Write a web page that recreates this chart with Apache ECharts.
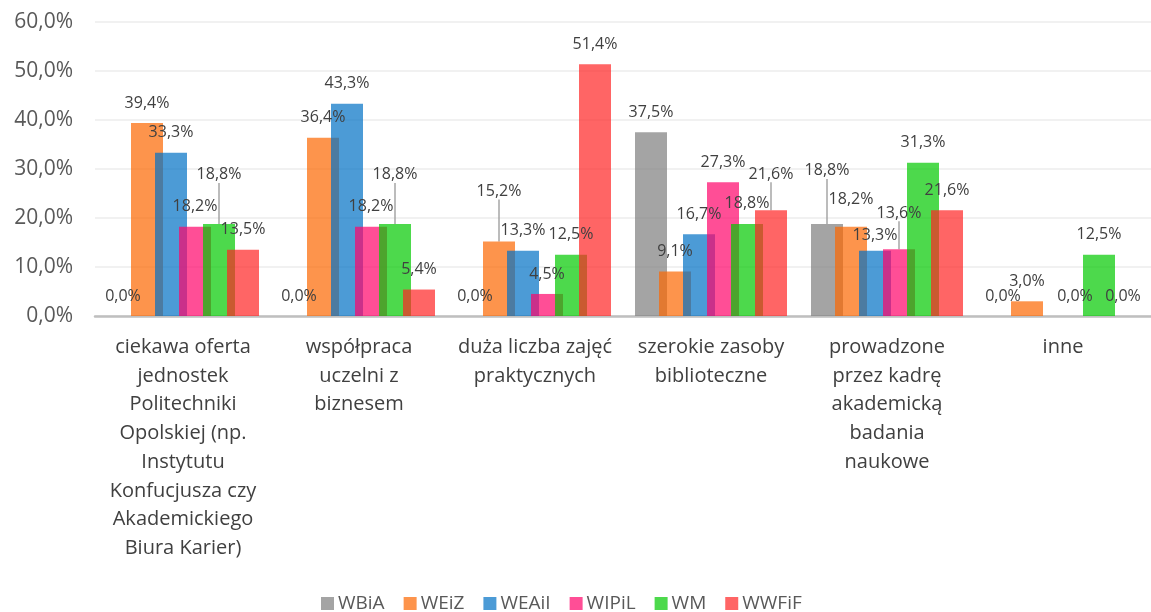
<!DOCTYPE html>
<html>
<head>
<meta charset="utf-8">
<script src="https://cdn.jsdelivr.net/npm/echarts@6/dist/echarts.min.js"></script>
<style>
    html, body { margin: 0; padding: 0; background: #ffffff; }
    #chart { width: 1151px; height: 612px; }
</style>
</head>
<body>
<div id="chart"></div>
<script>
    // categories (line breaks as wrapped in the original)
    const categories = [
        'ciekawa oferta\njednostek\nPolitechniki\nOpolskiej (np.\nInstytutu\nKonfucjusza czy\nAkademickiego\nBiura Karier)',
        'współpraca\nuczelni z\nbiznesem',
        'duża liczba zajęć\npraktycznych',
        'szerokie zasoby\nbiblioteczne',
        'prowadzone\nprzez kadrę\nakademicką\nbadania\nnaukowe',
        'inne'
    ]

    const seriesNames = ['WBiA', 'WEiZ', 'WEAiI', 'WIPiL', 'WM', 'WWFiF']

    // values in %
    const wbia  = [0, 0, 0, 37.5, 18.8, 0]
    const weiz  = [39.4, 36.4, 15.2, 9.1, 18.2, 3.0]
    const weaii = [33.3, 43.3, 13.3, 16.7, 13.3, null]
    const wipil = [18.2, 18.2, 4.5, 27.3, 13.6, 0]
    const wm    = [18.8, 18.8, 12.5, 18.8, 31.3, 12.5]
    const wwfif = [13.5, 5.4, 51.4, 21.6, 21.6, 0]

    const yTicks = [0, 10, 20, 30, 40, 50, 60]

    // styling: semi-transparent fills so overlapping bars darken like the original
    const colors = [
        'rgba(126,126,126,0.7)',
        'rgba(252,102,0,0.7)',
        'rgba(0,112,196,0.7)',
        'rgba(255,3,105,0.7)',
        'rgba(2,201,0,0.7)',
        'rgba(255,36,36,0.7)'
    ]
    // label nudges (px) where labels were moved to avoid overlaps: [seriesIndex, dataIndex, dy]
    const labelMoves = [
        [0, 4, -33],
        [1, 2, -30], [1, 4, -7],
        [2, 4, 5],
        [3, 4, -16],
        [4, 0, -29], [4, 1, -29],
        [5, 3, -16]
    ]

    const fmt = v => v.toFixed(1).replace('.', ',') + '%'
    const font = '"Open Sans", "Noto Sans", sans-serif'

    const moveOf = (si, di) => {
        const m = labelMoves.find(x => x[0] === si && x[1] === di)
        return m ? m[2] : 0
    }

    const values = [wbia, weiz, weaii, wipil, wm, wwfif]

    const series = values.map((vals, si) => ({
        name: seriesNames[si],
        type: 'bar',
        barWidth: 32,
        barGap: '-25%',
        itemStyle: { color: colors[si] },
        label: {
            show: true,
            position: 'top',
            distance: 12,
            color: '#404040',
            fontSize: 16,
            fontFamily: font,
            formatter: p => p.value == null ? '' : fmt(p.value)
        },
        labelLine: {
            lineStyle: { color: '#a6a6a6', width: 1.5 }
        },
        labelLayout: params => ({ dy: moveOf(params.seriesIndex, params.dataIndex) }),
        data: vals.map((v, di) => ({
            value: v,
            labelLine: { show: moveOf(si, di) < -10 }
        }))
    }))

    const myChart = echarts.init(document.getElementById('chart'))
    myChart.setOption({
        animation: false,
        grid: {
            left: 95,
            top: 22,
            width: 1066,
            height: 294
        },
        legend: {
            left: 316,
            top: 589,
            itemWidth: 13,
            itemHeight: 13,
            itemGap: 19,
            icon: 'rect',
            textStyle: {
                color: '#595959',
                fontSize: 19,
                fontFamily: font,
                padding: [0, 0, 0, -1]
            },
            data: seriesNames
        },
        xAxis: {
            type: 'category',
            data: categories,
            axisLine: { lineStyle: { color: '#bfbfbf', width: 2.5 } },
            axisTick: { show: false },
            axisLabel: {
                interval: 0,
                margin: 17,
                color: '#404040',
                fontSize: 20,
                lineHeight: 28.7,
                fontFamily: font
            }
        },
        yAxis: {
            type: 'value',
            min: yTicks[0],
            max: yTicks[yTicks.length - 1],
            interval: 10,
            axisLine: { show: false },
            axisTick: { show: false },
            splitLine: { lineStyle: { color: '#ececec', width: 1.5 } },
            axisLabel: {
                margin: 22,
                color: '#595959',
                fontSize: 21,
                fontFamily: font,
                formatter: v => fmt(v)
            }
        },
        series: series
    })
</script>
</body>
</html>
